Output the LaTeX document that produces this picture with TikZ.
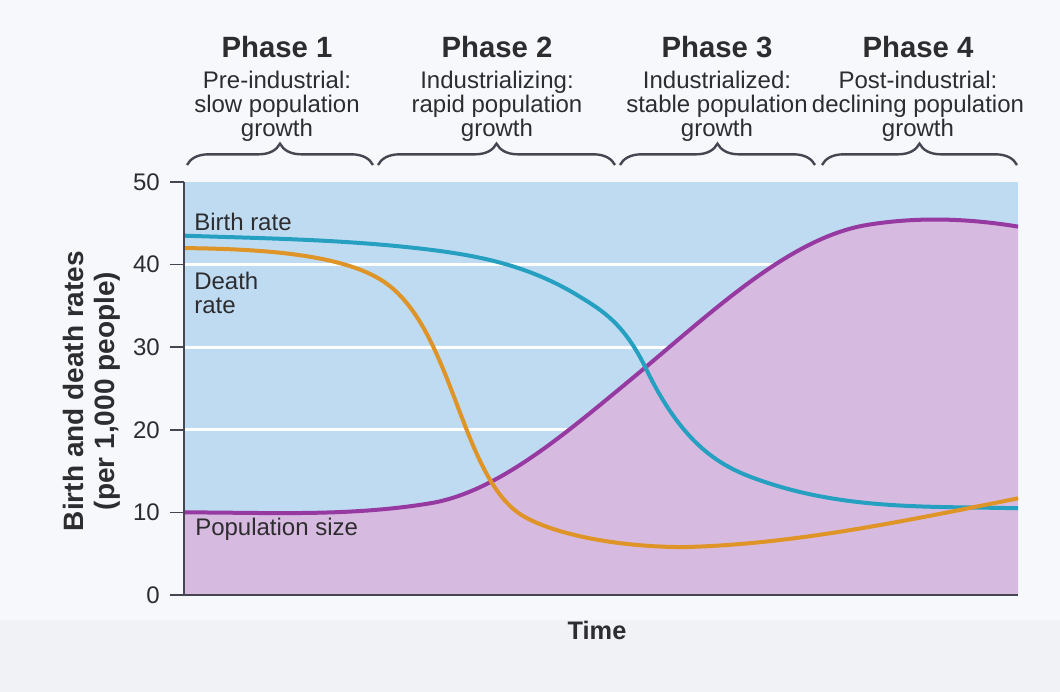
\documentclass[tikz,border=0pt]{standalone}
\usepackage{fontspec}
\setmainfont{Liberation Sans}
\usetikzlibrary{decorations.pathreplacing}
\definecolor{pagecol}{RGB}{246,248,251}
\definecolor{bandcol}{RGB}{240,242,246}
\definecolor{skyfill}{RGB}{191,219,241}
\definecolor{popfill}{RGB}{215,186,223}
\definecolor{birthcol}{RGB}{38,160,192}
\definecolor{deathcol}{RGB}{222,148,38}
\definecolor{popcol}{RGB}{150,58,162}
\definecolor{axiscol}{RGB}{70,70,82}
\definecolor{inkcol}{RGB}{45,45,48}
\tikzset{
  phase/.style={font=\fontsize{22}{24}\selectfont\bfseries, anchor=base, inner sep=0pt, text=inkcol},
  desc/.style={font=\fontsize{18}{17.8}\selectfont, align=center, anchor=north, inner sep=0pt, text=inkcol},
  lbl/.style={font=\fontsize{18}{18}\selectfont, inner sep=0pt, text=inkcol},
  tick/.style={font=\fontsize{18}{18}\selectfont, anchor=east, inner sep=0pt, text=inkcol},
  bracket/.style={decorate, decoration={brace, amplitude=16pt}, line width=1.8pt, draw=axiscol},
  axis/.style={line width=1.3pt, draw=axiscol},
  grid/.style={line width=2pt, draw=white},
  curve/.style={line width=3pt}
}
\begin{document}
\begin{tikzpicture}[x=0.75pt, y=0.75pt]
  \useasboundingbox (-184,-97) rectangle (876,595);
  \fill[pagecol] (-184,-97) rectangle (876,595);
  \fill[bandcol] (-184,-97) rectangle (876,-25);

  % phases
  \node[phase] (p1) at (93,537) {Phase 1};
  \node[phase] (p2) at (313,537) {Phase 2};
  \node[phase] (p3) at (533,537) {Phase 3};
  \node[phase] (p4) at (734,537) {Phase 4};
  \node[desc] (d1) at (93,524) {Pre-industrial:\\slow population\\growth};
  \node[desc] (d2) at (313,524) {Industrializing:\\rapid population\\growth};
  \node[desc] (d3) at (533,524) {Industrialized:\\stable population\\growth};
  \node[desc] (d4) at (734,524) {Post-industrial:\\declining population\\growth};

  \coordinate (b1a) at (3,430);   \coordinate (b1b) at (189,430);
  \coordinate (b2a) at (194,430); \coordinate (b2b) at (431,430);
  \coordinate (b3a) at (436,430); \coordinate (b3b) at (631,430);
  \coordinate (b4a) at (638,430); \coordinate (b4b) at (833,430);
  \draw[bracket] (b1a) -- (b1b);
  \draw[bracket] (b2a) -- (b2b);
  \draw[bracket] (b3a) -- (b3b);
  \draw[bracket] (b4a) -- (b4b);

  % chart
  \begin{scope}[yscale=8.26]
    \fill[skyfill] (0,0) rectangle (834,50);
    \foreach \v in {20,30,40}
      \draw[grid] (0,\v) -- (834,\v);
    \fill[popfill] (0,0) -- (0,10)
      .. controls (82,10) and (164,9.46) .. (246,11.1)
      .. controls (312.7,12.43) and (379.3,19.33) .. (446,26)
      .. controls (525,33.9) and (604,43.22) .. (683,44.8)
      .. controls (733.3,45.8) and (783.7,45.6) .. (834,44.6)
      -- (834,0) -- cycle;

    % population size
    \draw[curve, popcol] (0,10)
      .. controls (82,10) and (164,9.46) .. (246,11.1)
      .. controls (312.7,12.43) and (379.3,19.33) .. (446,26)
      .. controls (525,33.9) and (604,43.22) .. (683,44.8)
      .. controls (733.3,45.8) and (783.7,45.6) .. (834,44.6);
    % birth rate
    \draw[curve, birthcol] (0,43.5)
      .. controls (82,43.17) and (164,43.03) .. (246,41.8)
      .. controls (296,41.05) and (346,39.85) .. (396,36.1)
      .. controls (418,34.45) and (440,32.9) .. (462,27.4)
      .. controls (502.3,17.3) and (542.7,15.2) .. (583,13.6)
      .. controls (666.7,10.25) and (750.3,10.75) .. (834,10.5);
    % death rate
    \draw[curve, deathcol] (0,42)
      .. controls (65,41.9) and (150,41.5) .. (195,38.3)
      .. controls (270,33) and (275,14) .. (340,9.5)
      .. controls (375,7.1) and (440,5.8) .. (500,5.8)
      .. controls (611,6.13) and (723,9.03) .. (834,11.7);

    \draw[axis] (0,50) -- (0,0) -- (834,0);
    \foreach \v in {0,10,...,50} {
      \draw[axis] (-14,\v) -- (0,\v);
      \node[tick] (t\v) at (-24,\v) {\v};
    }

    \node[lbl, anchor=west] (birth) at (10,45.2) {Birth rate};
    \node[lbl, anchor=north west, align=left] (death) at (10,39.1) {Death\\rate};
    \node[lbl, anchor=west] (pop) at (11,7.9) {Population size};
    \node[font=\fontsize{21}{23}\selectfont\bfseries, align=center, rotate=90, inner sep=0pt, text=inkcol]
      (ylab) at (-92,24.7) {Birth and death rates\\(per 1,000 people)};
  \end{scope}
  \node[font=\fontsize{19}{19}\selectfont\bfseries, inner sep=0pt, text=inkcol] (time) at (413,-35) {Time};
\end{tikzpicture}
\end{document}
